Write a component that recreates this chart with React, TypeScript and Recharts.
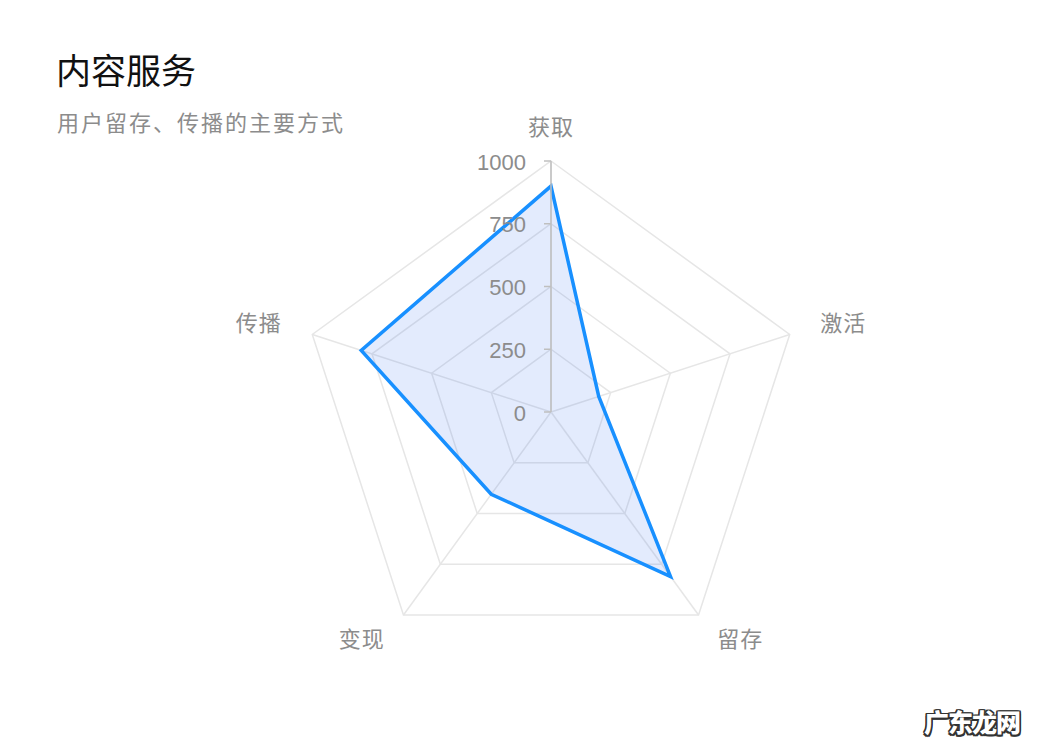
import { RadarChart, Radar, PolarGrid, PolarAngleAxis, PolarRadiusAxis } from 'recharts';

// 雷达图维度与取值
const dimensions = ['获取', '激活', '留存', '变现', '传播'];
const values = [900, 200, 810, 405, 795];
const radiusTicks = [0, 250, 500, 750, 1000];

const chartData = dimensions.map((name, i) => ({ name, value: values[i] }));

const CX = 551;
const CY = 412;
const R = 251;
const FONT = '"Noto Sans CJK SC", "Noto Sans", sans-serif';
const NUM_FONT = '"Liberation Sans", Arial, sans-serif';

// 维度标签：沿径向向外偏移
const AngleTick = ({ payload }: any) => {
  const rad = (payload.coordinate * Math.PI) / 180;
  const ux = Math.cos(rad);
  const uy = -Math.sin(rad);
  const x = CX + (R + 32) * ux;
  const y = CY + R * uy + 32 * uy - 4;
  const anchor = Math.abs(ux) < 0.1 ? 'middle' : ux > 0 ? 'start' : 'end';
  return (
    <text x={x} y={y} textAnchor={anchor} dominantBaseline="central" fill="#8c8c8c" fontSize={22} fontFamily={FONT} letterSpacing={1}>
      {payload.value}
    </text>
  );
};

// 刻度：短线 + 右对齐数值
const RadiusTick = ({ x, y, payload }: any) => (
  <g>
    <line x1={x - 7} y1={y} x2={x} y2={y} stroke="#bfbfbf" strokeWidth={1.5} />
    <text x={x - 25} y={y + 1} textAnchor="end" dominantBaseline="central" fill="#8c8c8c" fontSize={22} fontFamily={NUM_FONT}>
      {payload.value}
    </text>
  </g>
);

export default function App() {
  return (
    <div style={{ position: 'absolute', left: 0, top: 0, width: 1058, height: 750, background: '#fff', overflow: 'hidden' }}>
      <div style={{ position: 'absolute', left: 56, top: 48, fontSize: 35, color: '#111', fontFamily: FONT, lineHeight: 1.2 }}>
        内容服务
      </div>
      <div style={{ position: 'absolute', left: 57, top: 108, fontSize: 22, color: '#8c8c8c', fontFamily: FONT, lineHeight: 1.2, letterSpacing: 2 }}>
        用户留存、传播的主要方式
      </div>

      <div style={{ position: 'absolute', left: 0, top: 0 }}>
        <RadarChart width={1058} height={750} data={chartData} cx={CX} cy={CY} outerRadius={R} startAngle={90} endAngle={-270}>
          <PolarGrid gridType="polygon" stroke="#e6e6e6" strokeWidth={1.5} />
          <PolarAngleAxis dataKey="name" tick={<AngleTick />} tickLine={false} axisLine={false} />
          <Radar
            dataKey="value"
            stroke="#1890ff"
            strokeWidth={3.5}
            strokeLinejoin="miter"
            fill="#3b6ff0"
            fillOpacity={0.14}
            isAnimationActive={false}
            dot={false}
          />
          <PolarRadiusAxis
            angle={90}
            domain={[0, 1000]}
            ticks={radiusTicks}
            tickCount={5}
            tick={<RadiusTick />}
            axisLine={{ stroke: '#bfbfbf', strokeWidth: 1.5 }}
          />
        </RadarChart>
      </div>

      <div
        style={{
          position: 'absolute',
          left: 924,
          top: 703,
          fontSize: 25,
          fontWeight: 900,
          color: '#fff',
          fontFamily: FONT,
          letterSpacing: -1,
          textShadow:
            '1.5px 1.5px 0 #333, -1.5px -1.5px 0 #333, 1.5px -1.5px 0 #333, -1.5px 1.5px 0 #333, 0 1.5px 0 #333, 0 -1.5px 0 #333, 1.5px 0 0 #333, -1.5px 0 0 #333',
        }}
      >
        广东龙网
      </div>
    </div>
  );
}
